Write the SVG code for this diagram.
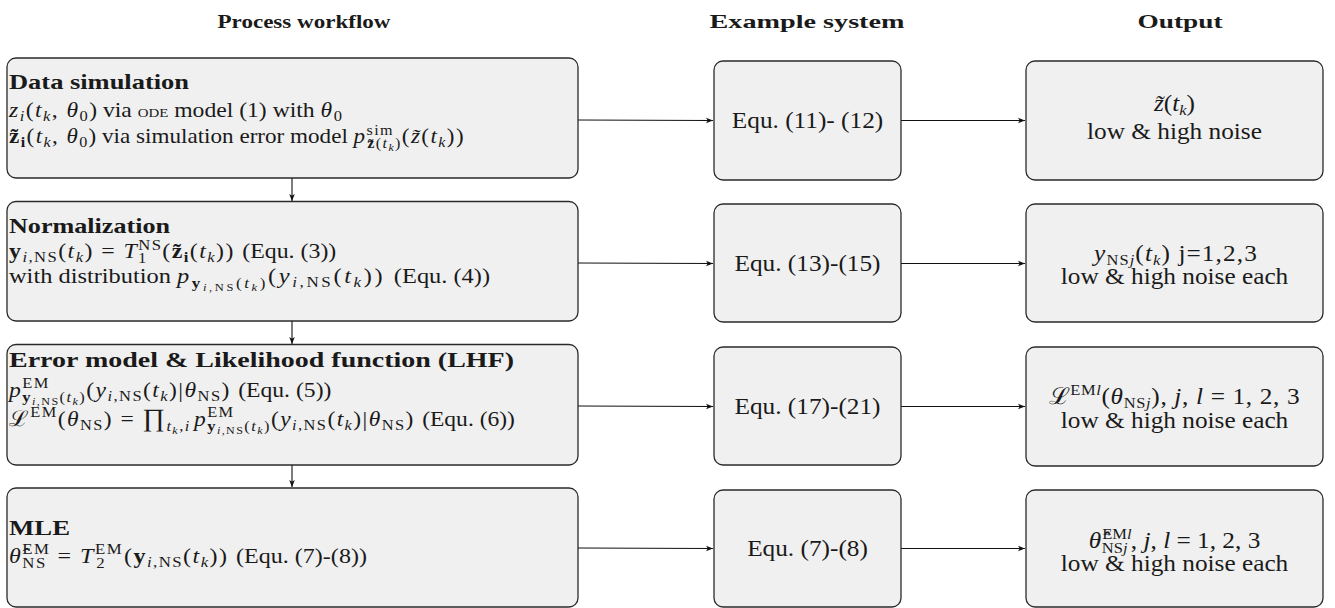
<svg xmlns="http://www.w3.org/2000/svg" width="1335" height="608" viewBox="0 0 1335 608">
<defs>
<style>
.box{fill:#f0f0f0;stroke:#2a2a2a;stroke-width:1.3}
.m{font-family:"Liberation Serif","Times New Roman",serif;font-size:21.5px;fill:#1a1a1a}
.r{font-family:"Liberation Serif","Times New Roman",serif;font-size:23px;fill:#1a1a1a}
.h{font-family:"Liberation Serif","Times New Roman",serif;font-size:19px;font-weight:bold;fill:#1a1a1a}
.tt{font-family:"Liberation Serif","Times New Roman",serif;font-size:21.5px;font-weight:bold;fill:#1a1a1a}
.q{letter-spacing:1.3px}
.q2{letter-spacing:2.3px}
.q1{letter-spacing:1px}
.q0{letter-spacing:0.6px}
.p{letter-spacing:0}
.i{font-style:italic}
.b{font-weight:bold}
.s{font-size:15px}
.ss{font-size:11px}
.c{text-anchor:middle}
.ln{stroke:#111;stroke-width:1.1;fill:none;marker-end:url(#ah)}
</style>
<marker id="ah" viewBox="0 0 10 10" refX="10" refY="5" markerWidth="8" markerHeight="7" markerUnits="userSpaceOnUse" orient="auto"><path d="M0,1 L10,5 L0,9 L2.5,5 z" fill="#111"/></marker>
</defs>
<rect width="1335" height="608" fill="#ffffff"/>

<g id="headers">
<text class="h c" x="304" y="28" textLength="173" lengthAdjust="spacingAndGlyphs">Process workflow</text>
<text class="h c" x="807" y="28" textLength="195" lengthAdjust="spacingAndGlyphs">Example system</text>
<text class="h c" x="1180" y="28" textLength="85" lengthAdjust="spacingAndGlyphs">Output</text>
</g>

<g id="connectors">
<line class="ln" x1="292" y1="178" x2="292" y2="201"/>
<line class="ln" x1="292" y1="321" x2="292" y2="344"/>
<line class="ln" x1="292" y1="465" x2="292" y2="487"/>
<line class="ln" x1="578" y1="120" x2="713" y2="120.5"/>
<line class="ln" x1="578" y1="263" x2="713" y2="263.5"/>
<line class="ln" x1="578" y1="406" x2="713" y2="406.5"/>
<line class="ln" x1="578" y1="548" x2="713" y2="548.5"/>
<line class="ln" x1="901" y1="120.5" x2="1025" y2="120.5"/>
<line class="ln" x1="901" y1="263.5" x2="1025" y2="263.5"/>
<line class="ln" x1="901" y1="406.5" x2="1025" y2="406.5"/>
<line class="ln" x1="901" y1="548.5" x2="1025" y2="548.5"/>
</g>

<g id="n-data-simulation">
<rect class="box" x="7" y="58" width="571" height="120" rx="9"/>
<text class="tt" x="9" y="89" textLength="180" lengthAdjust="spacingAndGlyphs">Data simulation</text>
<text class="m q" transform="translate(9,117) scale(1.1,1)"><tspan class="i">z</tspan><tspan class="s i" dy="4">i</tspan><tspan dy="-4">(</tspan><tspan class="i">t</tspan><tspan class="s i" dy="4">k</tspan><tspan dy="-4">, </tspan><tspan class="i">θ</tspan><tspan class="s" dy="4">0</tspan><tspan class="p" dy="-4">) via </tspan><tspan class="p" style="font-size:13.5px">ODE</tspan><tspan class="p"> model (1) with </tspan><tspan class="i">θ</tspan><tspan class="s" dy="4">0</tspan></text>
<text class="m q" transform="translate(9,143) scale(1.075,1)"><tspan class="b">z̃</tspan><tspan class="s b" dy="4">i</tspan><tspan dy="-4">(</tspan><tspan class="i">t</tspan><tspan class="s i" dy="4">k</tspan><tspan dy="-4">, </tspan><tspan class="i">θ</tspan><tspan class="s" dy="4">0</tspan><tspan class="p" dy="-4">) via simulation error model </tspan><tspan class="i">p</tspan><tspan class="s" dy="-8">sim</tspan><tspan class="s b" dx="-25" dy="13">z̃</tspan><tspan class="s">(</tspan><tspan class="s i">t</tspan><tspan class="ss i" dy="3">k</tspan><tspan class="s" dy="-3">)</tspan><tspan dy="-5">(</tspan><tspan class="i">z̃</tspan><tspan>(</tspan><tspan class="i">t</tspan><tspan class="s i" dy="4">k</tspan><tspan dy="-4">))</tspan></text>
</g>

<g id="n-normalization">
<rect class="box" x="7" y="201.5" width="571" height="119.5" rx="9"/>
<text class="tt" x="9" y="233" textLength="161" lengthAdjust="spacingAndGlyphs">Normalization</text>
<text class="m q" transform="translate(9,258) scale(1.11,1)"><tspan class="b">y</tspan><tspan class="s" dy="4"><tspan class="i">i</tspan>,NS</tspan><tspan dy="-4">(</tspan><tspan class="i">t</tspan><tspan class="s i" dy="4">k</tspan><tspan dy="-4">) = </tspan><tspan class="i">T</tspan><tspan class="s" dy="-8">NS</tspan><tspan class="s" dx="-22" dy="13">1</tspan><tspan dx="13" dy="-5">(</tspan><tspan class="b">z̃</tspan><tspan class="s b" dy="4">i</tspan><tspan dy="-4">(</tspan><tspan class="i">t</tspan><tspan class="s i" dy="4">k</tspan><tspan dy="-4">)) </tspan><tspan class="p">(Equ. (3))</tspan></text>
<text class="m q2" transform="translate(9,283) scale(1.135,1)"><tspan class="p">with distribution </tspan><tspan class="i">p</tspan><tspan class="s b" dy="5">y</tspan><tspan class="ss" dy="3"><tspan class="i">i</tspan>,NS</tspan><tspan class="s" dy="-3">(</tspan><tspan class="s i">t</tspan><tspan class="ss i" dy="3">k</tspan><tspan class="s" dy="-3">)</tspan><tspan dy="-5">(</tspan><tspan class="i">y</tspan><tspan class="s" dy="4"><tspan class="i">i</tspan>,NS</tspan><tspan dy="-4">(</tspan><tspan class="i">t</tspan><tspan class="s i" dy="4">k</tspan><tspan dy="-4">)) </tspan><tspan class="p">(Equ. (4))</tspan></text>
</g>

<g id="n-error-model">
<rect class="box" x="7" y="344.5" width="571" height="120.5" rx="9"/>
<text class="tt" x="9" y="367" textLength="505" lengthAdjust="spacingAndGlyphs">Error model &amp; Likelihood function (LHF)</text>
<text class="m q" transform="translate(9,397) scale(1.1,1)"><tspan class="i">p</tspan><tspan class="s" dy="-9">EM</tspan><tspan class="s b" dx="-25" dy="14">y</tspan><tspan class="ss" dy="3"><tspan class="i">i</tspan>,NS</tspan><tspan class="s" dy="-3">(</tspan><tspan class="s i">t</tspan><tspan class="ss i" dy="3">k</tspan><tspan class="s" dy="-3">)</tspan><tspan dy="-5">(</tspan><tspan class="i">y</tspan><tspan class="s" dy="4"><tspan class="i">i</tspan>,NS</tspan><tspan dy="-4">(</tspan><tspan class="i">t</tspan><tspan class="s i" dy="4">k</tspan><tspan dy="-4">)|</tspan><tspan class="i">θ</tspan><tspan class="s" dy="4">NS</tspan><tspan dy="-4">) </tspan><tspan class="p">(Equ. (5))</tspan></text>
<text class="m q" transform="translate(9,426) scale(1.095,1)"><tspan>ℒ</tspan><tspan class="s" dy="-9">EM</tspan><tspan dy="9">(</tspan><tspan class="i">θ</tspan><tspan class="s" dy="4">NS</tspan><tspan dy="-4">) = </tspan><tspan style="font-size:25px">∏</tspan><tspan class="s i" dy="5">t</tspan><tspan class="ss i" dy="3">k</tspan><tspan class="s" dy="-3">,</tspan><tspan class="s i">i</tspan><tspan class="i" dx="3" dy="-5">p</tspan><tspan class="s" dy="-9">EM</tspan><tspan class="s b" dx="-25" dy="14">y</tspan><tspan class="ss" dy="3"><tspan class="i">i</tspan>,NS</tspan><tspan class="s" dy="-3">(</tspan><tspan class="s i">t</tspan><tspan class="ss i" dy="3">k</tspan><tspan class="s" dy="-3">)</tspan><tspan dy="-5">(</tspan><tspan class="i">y</tspan><tspan class="s" dy="4"><tspan class="i">i</tspan>,NS</tspan><tspan dy="-4">(</tspan><tspan class="i">t</tspan><tspan class="s i" dy="4">k</tspan><tspan dy="-4">)|</tspan><tspan class="i">θ</tspan><tspan class="s" dy="4">NS</tspan><tspan dy="-4">) </tspan><tspan class="p">(Equ. (6))</tspan></text>
</g>

<g id="n-mle">
<rect class="box" x="7" y="488" width="571" height="119" rx="9"/>
<text class="tt" x="9" y="535" textLength="61" lengthAdjust="spacingAndGlyphs">MLE</text>
<text class="m q" transform="translate(9,563) scale(1.12,1)"><tspan class="i">θ̂</tspan><tspan class="s" dy="-9">EM</tspan><tspan class="s" dx="-25" dy="14">NS</tspan><tspan dx="3" dy="-5"> = </tspan><tspan class="i">T</tspan><tspan class="s" dy="-9">EM</tspan><tspan class="s" dx="-24" dy="14">2</tspan><tspan dx="16" dy="-5">(</tspan><tspan class="b">y</tspan><tspan class="s" dy="4"><tspan class="i">i</tspan>,NS</tspan><tspan dy="-4">(</tspan><tspan class="i">t</tspan><tspan class="s i" dy="4">k</tspan><tspan dy="-4">)) </tspan><tspan class="p">(Equ. (7)-(8))</tspan></text>
</g>

<g id="n-eq-11-12">
<rect class="box" x="714" y="61" width="187" height="119" rx="9"/>
<text class="r c" transform="translate(807.5,128) scale(1.1,1)">Equ. (11)- (12)</text>
</g>
<g id="n-eq-13-15">
<rect class="box" x="714" y="204" width="187" height="118" rx="9"/>
<text class="r c" transform="translate(807.5,271) scale(1.1,1)">Equ. (13)-(15)</text>
</g>
<g id="n-eq-17-21">
<rect class="box" x="714" y="347" width="187" height="118" rx="9"/>
<text class="r c" transform="translate(807.5,414) scale(1.1,1)">Equ. (17)-(21)</text>
</g>
<g id="n-eq-7-8">
<rect class="box" x="714" y="490" width="187" height="117" rx="9"/>
<text class="r c" transform="translate(807.5,556) scale(1.1,1)">Equ. (7)-(8)</text>
</g>

<g id="n-out-1">
<rect class="box" x="1026" y="61" width="297" height="119" rx="9"/>
<text class="r c" transform="translate(1174.5,111) scale(1.1,1)"><tspan class="i">z̃</tspan><tspan>(</tspan><tspan class="i">t</tspan><tspan class="s i" dy="4">k</tspan><tspan dy="-4">)</tspan></text>
<text class="r c" transform="translate(1174.5,139) scale(1.1,1)">low &amp; high noise</text>
</g>
<g id="n-out-2">
<rect class="box" x="1026" y="204" width="297" height="118" rx="9"/>
<text class="r c q1" transform="translate(1176,261) scale(1.1,1)"><tspan class="i">y</tspan><tspan class="s" dy="4">NS<tspan class="i">j</tspan></tspan><tspan dy="-4">(</tspan><tspan class="i">t</tspan><tspan class="s i" dy="4">k</tspan><tspan dy="-4">) j=1,2,3</tspan></text>
<text class="r c" transform="translate(1174.5,284) scale(1.1,1)">low &amp; high noise each</text>
</g>
<g id="n-out-3">
<rect class="box" x="1026" y="347" width="297" height="119" rx="9"/>
<text class="r c q0" transform="translate(1174.5,404) scale(1.1,1)"><tspan>ℒ</tspan><tspan class="s" dy="-9">EM<tspan class="i">l</tspan></tspan><tspan dy="9">(</tspan><tspan class="i">θ</tspan><tspan class="s" dy="4">NS<tspan class="i">j</tspan></tspan><tspan dy="-4">), </tspan><tspan class="i">j</tspan><tspan>, </tspan><tspan class="i">l</tspan><tspan> = 1, 2, 3</tspan></text>
<text class="r c" transform="translate(1174.5,428) scale(1.1,1)">low &amp; high noise each</text>
</g>
<g id="n-out-4">
<rect class="box" x="1026" y="490" width="297" height="117" rx="9"/>
<text class="r c" transform="translate(1174.5,548) scale(1.1,1)"><tspan class="i">θ̂</tspan><tspan class="s" dx="1" dy="-9">EM<tspan class="i">l</tspan></tspan><tspan class="s" dx="-27" dy="14">NS<tspan class="i">j</tspan></tspan><tspan dx="3" dy="-5">, </tspan><tspan class="i">j</tspan><tspan>, </tspan><tspan class="i">l</tspan><tspan> = 1, 2, 3</tspan></text>
<text class="r c" transform="translate(1174.5,571) scale(1.1,1)">low &amp; high noise each</text>
</g>
</svg>
